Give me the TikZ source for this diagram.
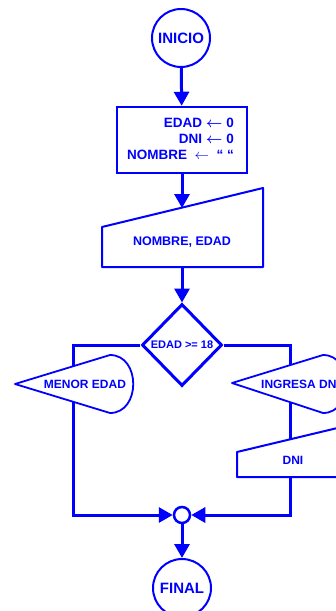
\documentclass[tikz,border=0pt]{standalone}
\usepackage{fontspec}
\setmainfont{Liberation Sans}
\usetikzlibrary{shapes.geometric,arrows.meta}
\begin{document}
\begin{tikzpicture}[x=1pt,y=-1pt]
	\tikzstyle{terminal} = [draw=blue, fill=white, circle, line width=2pt, minimum size=58pt, inner sep=0pt, text=blue, font=\bfseries\fontsize{15}{15}\selectfont]
	\tikzstyle{process} = [draw=blue, fill=white, rectangle, line width=2.5pt, minimum width=130pt, minimum height=66pt]
	\tikzstyle{decision} = [draw=blue, fill=white, diamond, line width=3pt, minimum width=80pt, minimum height=82pt, inner sep=0pt, text=blue, font=\bfseries\fontsize{11}{11}\selectfont]
	\tikzstyle{junction} = [draw=blue, fill=white, circle, line width=2.5pt, minimum size=16pt, inner sep=0pt]
	\tikzstyle{txt} = [text=blue, inner sep=0pt, font=\bfseries\fontsize{12}{15}\selectfont]
	\tikzstyle{outline} = [draw=blue, fill=white, line width=1.8pt, line join=round]
	\tikzstyle{wire} = [draw=blue, line width=3pt]
	\tikzstyle{flow} = [wire, -{Triangle[length=14pt,width=15pt]}]

	\clip (0,0) rectangle (336,611);

	% start and initialisation
	\node[terminal] (inicio) at (181,38) {INICIO};
	\node[process] (init) at (182,140) {};
	\node[txt, anchor=east, align=right, font=\bfseries\boldmath\fontsize{13.5}{16}\selectfont] (inittxt) at (234,139) {EDAD $\leftarrow$ 0\\
		DNI $\leftarrow$ 0\\
		NOMBRE \ {\unboldmath$\leftarrow$} \ \textquotedblleft\ \textquotedblleft};

	% read input
	\coordinate (readtop) at (182,208);
	\coordinate (readbot) at (182,267);
	\node[decision] (cond) at (182,345) {EDAD >= 18};
	\coordinate (lcorner) at (73,345);
	\coordinate (rcorner) at (290,345);
	\node[junction] (merge) at (182,515) {};

	\draw[flow] (inicio) -- (init);
	\draw[flow] (init) -- (readtop);
	\draw[flow] (readbot) -- (cond);
	\draw[flow] (cond) -- (lcorner) |- (merge);
	\draw[flow] (cond) -- (rcorner) |- (merge);

	\draw[outline, line width=2pt] (102,267) -- (102,227) -- (263,188) -- (263,267) -- cycle;
	\node[txt, font=\bfseries\fontsize{12.5}{14}\selectfont] (read) at (182,242) {NOMBRE, EDAD};

	% branches
	\draw[outline] (15,384) -- (110,355) .. controls (141,355) and (141,413) .. (110,413) -- cycle;
	\node[txt] (menor) at (85,384) {MENOR EDAD};

	\draw[outline] (232,383) -- (323,355) .. controls (354,355) and (354,413) .. (323,413) -- cycle;
	\node[txt, anchor=west] (ingresa) at (261,384) {INGRESA DNI};

	\draw[outline, line width=2pt] (237,477) -- (237,452) -- (350,425) -- (350,477) -- cycle;
	\node[txt] (dni) at (293,460) {DNI};

	% end
	\node[terminal] (final) at (182,588) {FINAL};
	\draw[flow] (merge) -- (final);
\end{tikzpicture}
\end{document}
